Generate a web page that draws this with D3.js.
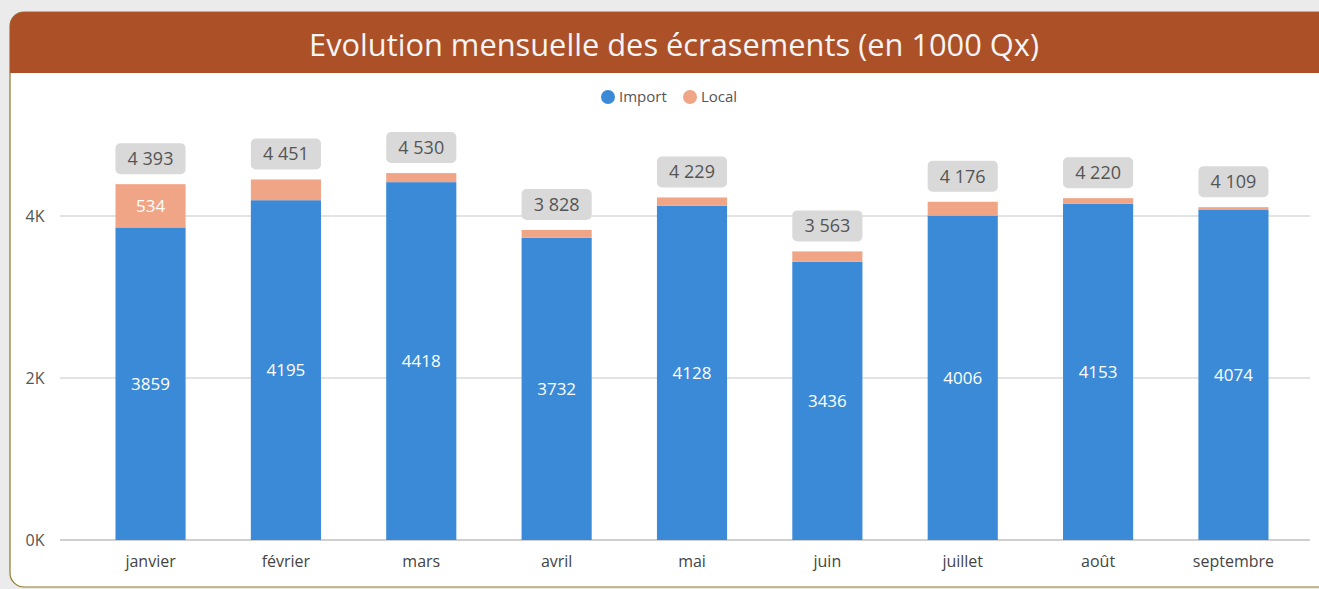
<!DOCTYPE html>
<html>
<head>
<meta charset="utf-8">
<style>
body { margin: 0; background: #ebebeb; }
svg { display: block; font-family: "Open Sans", "Noto Sans", sans-serif; }
</style>
</head>
<body>
<svg width="1319" height="589"></svg>
<script src="https://d3js.org/d3.v7.min.js"></script>
<script>

var months = ["janvier", "février", "mars", "avril", "mai", "juin", "juillet", "août", "septembre"];
var importVals = [3859, 4195, 4418, 3732, 4128, 3436, 4006, 4153, 4074];
var localVals = [534, 256, 112, 96, 101, 127, 170, 67, 35];
var yTicks = [0, 2000, 4000];

var svg = d3.select("svg"),
    width = +svg.attr("width"),
    height = +svg.attr("height");

// card
svg.append("rect")
    .attr("x", 10).attr("y", 12)
    .attr("width", 1340).attr("height", 575)
    .attr("rx", 14)
    .attr("fill", "#fff")
    .attr("stroke", "#8e7a2c")
    .attr("stroke-width", 1.2);

// header band
svg.append("clipPath").attr("id", "hdr")
  .append("rect")
    .attr("x", 10).attr("y", 12)
    .attr("width", 1340).attr("height", 200)
    .attr("rx", 14);

svg.append("rect")
    .attr("clip-path", "url(#hdr)")
    .attr("x", 10).attr("y", 12)
    .attr("width", 1340).attr("height", 61)
    .attr("fill", "#ab5027");

svg.append("text")
    .attr("x", 674).attr("y", 56)
    .attr("text-anchor", "middle")
    .attr("fill", "#f4f4f4")
    .attr("font-size", 30.8)
    .text("Evolution mensuelle des écrasements (en 1000 Qx)");

// legend
var legend = [["Import", "#3a8ad8", 608], ["Local", "#f0a586", 690]];
legend.forEach(function(l) {
  svg.append("circle").attr("cx", l[2]).attr("cy", 97).attr("r", 7).attr("fill", l[1]);
  svg.append("text").attr("x", l[2] + 11).attr("y", 102)
      .attr("fill", "#555").attr("font-size", 15).text(l[0]);
});

var x = d3.scaleBand()
    .domain(months)
    .range([83, 1301])
    .paddingInner(0.482)
    .paddingOuter(0.24);

var y = d3.scaleLinear()
    .domain([0, 4000])
    .range([540, 216]);

// grid
svg.append("g").selectAll("line")
    .data(yTicks)
  .enter().append("line")
    .attr("x1", 60).attr("x2", 1310)
    .attr("y1", function(d) { return y(d); })
    .attr("y2", function(d) { return y(d); })
    .attr("stroke", function(d) { return d === 0 ? "#cfcfcf" : "#e3e3e3"; })
    .attr("stroke-width", 2);

svg.append("g").selectAll("text")
    .data(yTicks)
  .enter().append("text")
    .attr("x", 35)
    .attr("y", function(d) { return y(d) + 6; })
    .attr("text-anchor", "middle")
    .attr("fill", "#555")
    .attr("font-size", 16)
    .text(function(d) { return (d / 1000) + "K"; });

// x labels
svg.append("g").selectAll("text")
    .data(months)
  .enter().append("text")
    .attr("x", function(d) { return x(d) + x.bandwidth() / 2; })
    .attr("y", 567)
    .attr("text-anchor", "middle")
    .attr("fill", "#444")
    .attr("font-size", 16)
    .text(function(d) { return d; });

var rows = months.map(function(m, i) {
  return { month: m, imp: importVals[i], loc: localVals[i], total: importVals[i] + localVals[i] };
});

var bar = svg.append("g").selectAll("g")
    .data(rows)
  .enter().append("g");

bar.append("rect")
    .attr("x", function(d) { return x(d.month); })
    .attr("width", x.bandwidth())
    .attr("y", function(d) { return y(d.imp); })
    .attr("height", function(d) { return y(0) - y(d.imp); })
    .attr("fill", "#3a8ad8");

bar.append("rect")
    .attr("x", function(d) { return x(d.month); })
    .attr("width", x.bandwidth())
    .attr("y", function(d) { return y(d.total); })
    .attr("height", function(d) { return y(d.imp) - y(d.total); })
    .attr("fill", "#f0a586");

bar.append("text")
    .attr("x", function(d) { return x(d.month) + x.bandwidth() / 2; })
    .attr("y", function(d) { return (y(0) + y(d.imp)) / 2 + 6; })
    .attr("text-anchor", "middle")
    .attr("fill", "#fff")
    .attr("font-size", 17)
    .text(function(d) { return d.imp; });

// local value only where it fits
bar.filter(function(d) { return y(d.imp) - y(d.total) > 25; })
  .append("text")
    .attr("x", function(d) { return x(d.month) + x.bandwidth() / 2; })
    .attr("y", function(d) { return (y(d.imp) + y(d.total)) / 2 + 6; })
    .attr("text-anchor", "middle")
    .attr("fill", "#fff")
    .attr("font-size", 17)
    .text(function(d) { return d.loc; });

// total boxes
var fmt = d3.formatLocale({ decimal: ",", thousands: " ", grouping: [3], currency: ["", ""] }).format(",d");

bar.append("rect")
    .attr("x", function(d) { return x(d.month); })
    .attr("width", x.bandwidth())
    .attr("y", function(d) { return y(d.total) - 41; })
    .attr("height", 31)
    .attr("rx", 5)
    .attr("fill", "#d9d9d9");

bar.append("text")
    .attr("x", function(d) { return x(d.month) + x.bandwidth() / 2; })
    .attr("y", function(d) { return y(d.total) - 19; })
    .attr("text-anchor", "middle")
    .attr("fill", "#555")
    .attr("font-size", 18)
    .text(function(d) { return fmt(d.total); });

</script>
</body>
</html>
